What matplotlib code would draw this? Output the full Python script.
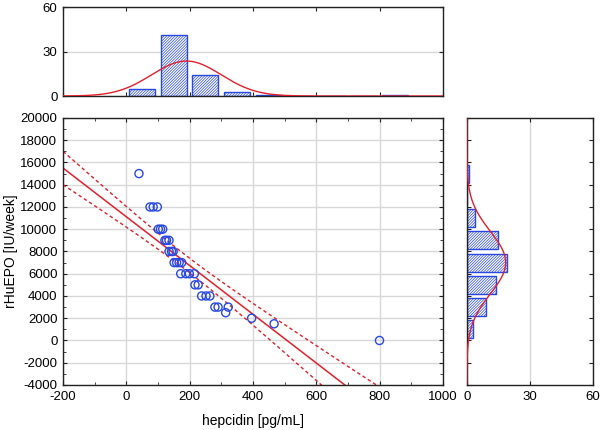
import numpy as np
import matplotlib
matplotlib.use("Agg")
import matplotlib.pyplot as plt
from matplotlib.ticker import MultipleLocator

plt.rcParams['font.family'] = ['Liberation Sans', 'DejaVu Sans']
plt.rcParams['font.size'] = 9.5
plt.rcParams['axes.unicode_minus'] = False
plt.rcParams['hatch.color'] = '#2848e0'
plt.rcParams['hatch.linewidth'] = 0.5

# scatter data
hepcidin = [40, 75, 85, 98, 101, 108, 115, 122, 127, 135, 135, 143, 148,
            151, 159, 167, 175, 172, 188, 199, 215, 217, 227, 238, 252, 264,
            280, 290, 322, 314, 396, 467, 800]
rhuepo = [15000, 12000, 12000, 12000, 10000, 10000, 10000, 9000, 9000, 9000,
          8000, 8000, 8000, 7000, 7000, 7000, 7000, 6000, 6000, 6000, 6000,
          5000, 5000, 4000, 4000, 4000, 3000, 3000, 3000, 2500, 2000, 1500, 0]

# fitted line and 95% band
fit_intercept = 11120
fit_slope = -21.9
band_a = 650
band_b = 3.47
band_xm = 190

# top histogram (hepcidin)
hx_edges = [0, 100, 200, 300, 400, 500, 600, 700, 800]
hx_counts = [5, 41, 14, 3, 1, 0, 0, 0, 1]
hx_mean, hx_sd = 190, 110

# right histogram (rHuEPO)
hy_edges = [0, 2000, 4000, 6000, 8000, 10000, 12000, 14000]
hy_counts = [3, 9, 14, 19, 15, 4, 0, 1]
hy_mean, hy_sd = 7000, 2800

n_total = 65
blue = '#2848e0'
red = '#e0202c'
grid_c = '#d8d8d8'

fig = plt.figure(figsize=(6, 4.3), dpi=100)
ax = fig.add_axes([0.105, 0.1047, 0.633, 0.621])
axt = fig.add_axes([0.105, 0.7767, 0.633, 0.207])
axr = fig.add_axes([0.778, 0.1047, 0.21, 0.621])

# main scatter
ax.scatter(hepcidin, rhuepo, s=34, facecolors='none', edgecolors=blue,
           linewidths=1.0, zorder=3)
xs = np.linspace(-200, 1000, 200)
yfit = fit_intercept + fit_slope * xs
band = np.sqrt(band_a ** 2 + band_b ** 2 * (xs - band_xm) ** 2)
ax.plot(xs, yfit, color=red, lw=1.1, zorder=2)
ax.plot(xs, yfit + band, color=red, lw=1.0, ls=(0, (2.5, 2)), zorder=2)
ax.plot(xs, yfit - band, color=red, lw=1.0, ls=(0, (2.5, 2)), zorder=2)
ax.set_xlim(-200, 1000)
ax.set_ylim(-4000, 20000)
ax.xaxis.set_major_locator(MultipleLocator(200))
ax.xaxis.set_minor_locator(MultipleLocator(100))
ax.yaxis.set_major_locator(MultipleLocator(2000))
ax.yaxis.set_minor_locator(MultipleLocator(1000))
ax.grid(True, color=grid_c, lw=1.0)
ax.set_axisbelow(True)
ax.set_xlabel('hepcidin [pg/mL]', labelpad=8, fontsize=10)
ax.set_ylabel('rHuEPO [IU/week]', labelpad=2, fontsize=10)

# top histogram
widths = np.diff(hx_edges + [900])
centers = np.array(hx_edges) + widths / 2
axt.bar(centers, hx_counts, width=widths * 0.82, facecolor='white',
        edgecolor=blue, hatch='/' * 12, lw=1.0, zorder=2)
xt = np.linspace(-200, 1000, 300)
axt.plot(xt, n_total * 100 * np.exp(-0.5 * ((xt - hx_mean) / hx_sd) ** 2)
         / (hx_sd * np.sqrt(2 * np.pi)), color=red, lw=1.0, zorder=3)
axt.set_xlim(-200, 1000)
axt.set_ylim(0, 60)
axt.set_yticks([0, 30, 60])
axt.xaxis.set_major_locator(MultipleLocator(200))
axt.set_xticklabels([])
axt.grid(True, axis='y', color=grid_c, lw=1.0)
axt.set_axisbelow(True)

# right histogram
heights = np.diff(hy_edges + [16000])
ycent = np.array(hy_edges) + heights / 2
axr.barh(ycent, hy_counts, height=heights * 0.81, facecolor='white',
         edgecolor=blue, hatch='/' * 12, lw=1.0, zorder=2)
yr = np.linspace(-4000, 20000, 300)
axr.plot(n_total * 2000 * np.exp(-0.5 * ((yr - hy_mean) / hy_sd) ** 2)
         / (hy_sd * np.sqrt(2 * np.pi)), yr, color=red, lw=1.0, zorder=3)
axr.set_ylim(-4000, 20000)
axr.set_xlim(0, 60)
axr.set_xticks([0, 30, 60])
axr.yaxis.set_major_locator(MultipleLocator(2000))
axr.set_yticklabels([])
axr.grid(True, axis='x', color=grid_c, lw=1.0)
axr.set_axisbelow(True)

for a in (ax, axt, axr):
    a.tick_params(which='both', direction='in', top=True, right=True,
                  color='#222222', pad=4)
    a.tick_params(which='major', length=3)
    a.tick_params(which='minor', length=2)
    for s in a.spines.values():
        s.set_color('#222222')
        s.set_linewidth(1.0)

fig.savefig('out.png', dpi=100)
